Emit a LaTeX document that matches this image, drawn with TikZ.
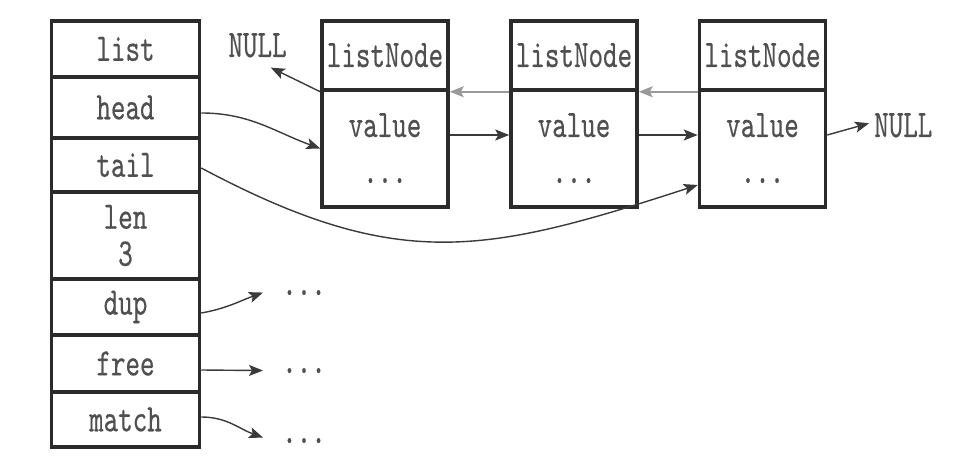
\documentclass[tikz,border=0pt]{standalone}
\usepackage{fontspec}
\setmonofont{lmmono10-regular.otf}[FakeStretch=0.71,FakeBold=0.4]
\usetikzlibrary{arrows.meta}
\definecolor{boxline}{HTML}{2B2B2B}
\definecolor{txt}{HTML}{505050}
\definecolor{arr}{HTML}{3A3A3A}
\definecolor{prevarr}{HTML}{9A9A9A}
\tikzset{
  mono/.style={text=txt, font=\ttfamily\fontsize{39pt}{37pt}\selectfont},
  lcell/.style={mono, draw=boxline, line width=3.5pt, inner sep=0pt, minimum width=148pt, align=center},
  ntop/.style={draw=boxline, line width=3.5pt, inner sep=0pt, minimum width=126pt, minimum height=69pt},
  nbot/.style={draw=boxline, line width=3.5pt, inner sep=0pt, minimum width=126pt, minimum height=117pt},
  lbl/.style={mono, inner sep=0pt, anchor=base},
  ptr/.style={draw=arr, line width=1.4pt, -{Stealth[length=14pt,width=11pt,inset=3pt]}},
  prevptr/.style={draw=prevarr, line width=2pt, -{Stealth[length=14pt,width=11pt,inset=3pt]}}
}
\begin{document}
\begin{tikzpicture}[x=1pt,y=1pt]
\useasboundingbox (0,0) rectangle (955,460);
% list structure
\node[lcell, minimum height=56pt] (list)  at (125.5,411)   {list};
\node[lcell, minimum height=61pt] (head)  at (125.5,352.5) {head};
\node[lcell, minimum height=54pt] (tail)  at (125.5,295)   {tail};
\node[lcell, minimum height=87pt] (len)   at (125.5,224.5) {len\\3};
\node[lcell, minimum height=56pt] (dup)   at (125.5,153)   {dup};
\node[lcell, minimum height=57pt] (free)  at (125.5,96.5)  {free};
\node[lcell, minimum height=55pt] (match) at (125.5,40.5)  {match};
% listNodes
\foreach \i/\x in {1/385,2/574,3/762.5}{
  \node[ntop] (n\i top) at (\x,404.5) {};
  \node[nbot] (n\i bot) at (\x,311.5) {};
  \node[lbl] (n\i name) at (\x,393) {listNode};
  \node[lbl] (n\i val)  at (\x,323) {value};
  \node[lbl] (n\i dots) at (\x,277) {...};
}
% NULLs and dots
\node[lbl] (nullL) at (257.5,403) {NULL};
\node[lbl, anchor=base west] (nullR) at (874,323) {NULL};
\node[lbl] (d1) at (304,165) {...};
\node[lbl] (d2) at (304,87) {...};
\node[lbl] (d3) at (304,17) {...};
% prev pointers
\draw[ptr] (n1top.south west) -- ([xshift=-16pt,yshift=-10pt]nullL.south east);
\draw[prevptr] (n2top.south west) -- (n1top.south east);
\draw[prevptr] (n3top.south west) -- (n2top.south east);
% next pointers
\draw[ptr] ([yshift=13.5pt]n1bot.east) -- ([yshift=13.5pt]n2bot.west);
\draw[ptr] ([yshift=13.5pt]n2bot.east) -- ([yshift=13.5pt]n3bot.west);
\draw[ptr] ([yshift=13.5pt]n3bot.east) -- ([xshift=-5pt,yshift=2pt]nullR.west);
% head / tail
\draw[ptr] ([yshift=-5.5pt]head.east) to[out=0,in=160] (n1bot.west);
\draw[ptr] ([yshift=-3pt]tail.east) to[out=-28,in=198,looseness=1.15] ([yshift=-36.5pt]n3bot.west);
% dup / free / match
\draw[ptr] ([yshift=-6pt]dup.east) to[out=10,in=200] ([xshift=-19pt]d1.west);
\draw[ptr] ([yshift=-6.5pt]free.east) -- ([xshift=-19pt]d2.west);
\draw[ptr] ([yshift=2.5pt]match.east) to[out=0,in=160] ([xshift=-19pt,yshift=3pt]d3.west);
\end{tikzpicture}
\end{document}
